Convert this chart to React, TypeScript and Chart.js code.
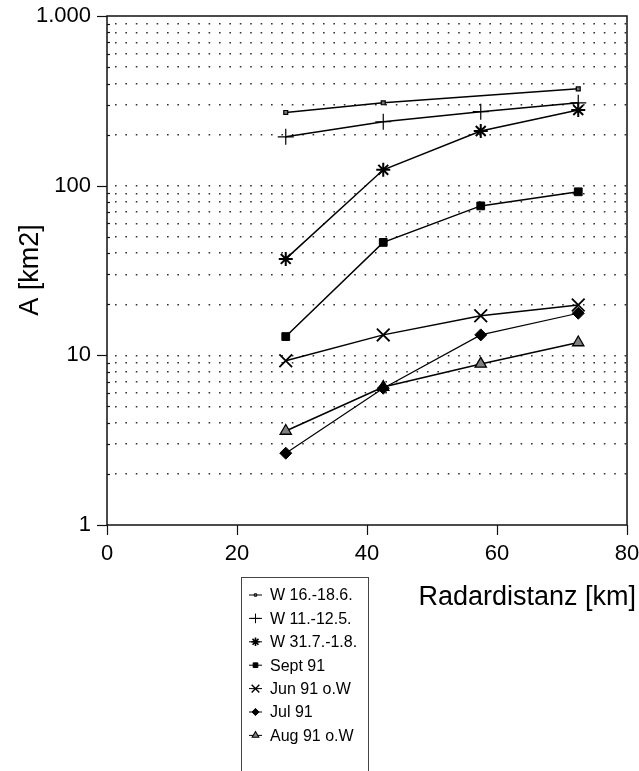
import React, { useEffect, useRef } from 'react';
import { Chart, registerables } from 'chart.js';
import { drawPoint } from 'chart.js/helpers';

Chart.register(...registerables);

// ---- data ----
const distances = [27.5, 42.5, 57.5, 72.5];
const seriesNames = ['W 16.-18.6.', 'W 11.-12.5.', 'W 31.7.-1.8.', 'Sept 91', 'Jun 91 o.W', 'Jul 91', 'Aug 91 o.W'];
const w1618 = [270, 308, null, 372];
const w1112 = [194, 238, 273, 308];
const w3171 = [37, 124, 210, 279];
const sept91 = [12.9, 46.3, 76, 92];
const jun91 = [9.3, 13.2, 17.1, 19.8];
const jul91 = [2.65, 6.4, 13.2, 17.7];
const aug91 = [3.58, 6.5, 8.9, 11.9];
const xTicks = [0, 20, 40, 60, 80];
const yDecades = [1, 10, 100, 1000];
const yLabels = ['1', '10', '100', '1.000'];
const xTitle = 'Radardistanz [km]';
const yTitle = 'A [km2]';

const seriesValues = [w1618, w1112, w3171, sept91, jun91, jul91, aug91];

// ---- styles ----
const FONT = "'Liberation Sans', Arial, Helvetica, sans-serif";
const markerStyles = [
  { pointStyle: 'rect', radius: 2.8, bg: '#777', bw: 1.2, lw: 1.5 },
  { pointStyle: 'cross', radius: 8, bg: '#000', bw: 1.2, lw: 1.5 },
  { pointStyle: 'star', radius: 7, bg: '#000', bw: 2, lw: 1.5 },
  { pointStyle: 'rect', radius: 5.5, bg: '#000', bw: 1, lw: 1.5 },
  { pointStyle: 'crossRot', radius: 9, bg: '#000', bw: 1.8, lw: 1.5 },
  { pointStyle: 'rectRot', radius: 6, bg: '#000', bw: 1, lw: 1.2 },
  { pointStyle: 'triangle', radius: 6.5, bg: '#808080', bw: 1.3, lw: 1.5 },
];

function buildYTicks() {
  const vals: number[] = [];
  for (let i = 0; i < yDecades.length - 1; i++) {
    for (let m = 1; m <= 9; m++) vals.push(yDecades[i] * m);
  }
  vals.push(yDecades[yDecades.length - 1]);
  return vals;
}

const overlayPlugin = {
  id: 'overlay',
  afterDraw(chart: any) {
    const { ctx, chartArea } = chart;
    const { left, right, top, bottom } = chartArea;
    const x = chart.scales.x;
    const y = chart.scales.y;
    ctx.save();
    // frame
    ctx.strokeStyle = '#111';
    ctx.lineWidth = 1.5;
    ctx.strokeRect(left, top, right - left, bottom - top);

    // y tick marks
    ctx.lineWidth = 1.2;
    y.ticks.forEach((t: any) => {
      const py = Math.round(y.getPixelForValue(t.value)) + 0.5;
      ctx.beginPath();
      if (yDecades.includes(t.value)) {
        ctx.moveTo(left - 10, py);
        ctx.lineTo(left, py);
      } else {
        ctx.moveTo(left, py);
        ctx.lineTo(left + 3, py);
      }
      ctx.stroke();
    });
    // x tick marks
    xTicks.forEach((v) => {
      const px = Math.round(x.getPixelForValue(v)) + 0.5;
      ctx.beginPath();
      ctx.moveTo(px, bottom);
      ctx.lineTo(px, bottom + 10);
      ctx.stroke();
    });

    // axis titles
    ctx.fillStyle = '#000';
    ctx.font = `27px ${FONT}`;
    ctx.textAlign = 'right';
    ctx.textBaseline = 'middle';
    ctx.fillText(xTitle, 636, 598);

    ctx.save();
    ctx.font = `27px ${FONT}`;
    ctx.translate(31, 270);
    ctx.rotate(-Math.PI / 2);
    ctx.textAlign = 'center';
    ctx.fillText(yTitle, 0, 0);
    ctx.restore();

    // legend box
    ctx.strokeStyle = '#444';
    ctx.lineWidth = 1;
    ctx.strokeRect(241.5, 577.5, 127, 220);
    ctx.font = `16px ${FONT}`;
    ctx.textAlign = 'left';
    ctx.textBaseline = 'middle';
    seriesNames.forEach((name, i) => {
      const st = markerStyles[i];
      const ly = 595 + i * 23.4;
      ctx.strokeStyle = '#000';
      ctx.lineWidth = 1;
      ctx.beginPath();
      ctx.moveTo(249, ly);
      ctx.lineTo(262, ly);
      ctx.stroke();
      ctx.fillStyle = st.bg;
      ctx.strokeStyle = '#000';
      ctx.lineWidth = Math.max(1, st.bw * 0.8);
      drawPoint(ctx, { pointStyle: st.pointStyle, rotation: 0, radius: st.radius * 0.6, borderWidth: ctx.lineWidth } as any, 255.5, ly);
      ctx.fillStyle = '#000';
      ctx.fillText(name, 270, ly + 1);
    });
    ctx.restore();
  },
};

export default function App() {
  const ref = useRef<HTMLCanvasElement | null>(null);
  useEffect(() => {
    if (!ref.current) return;
    const datasets = seriesNames.map((name, i) => {
      const st = markerStyles[i];
      return {
        label: name,
        data: distances.map((d, j) => ({ x: d, y: seriesValues[i][j] })),
        borderColor: '#000',
        borderWidth: st.lw,
        pointStyle: st.pointStyle,
        pointRadius: st.radius,
        pointBackgroundColor: st.bg,
        pointBorderColor: '#000',
        pointBorderWidth: st.bw,
        spanGaps: true,
        tension: 0,
        fill: false,
      };
    });
    const chart = new Chart(ref.current, {
      type: 'line',
      data: { datasets } as any,
      plugins: [overlayPlugin],
      options: {
        responsive: false,
        animation: false,
        devicePixelRatio: 1,
        layout: { padding: { top: 16, right: 12, bottom: 0, left: 0 } },
        plugins: { legend: { display: false }, tooltip: { enabled: false } },
        scales: {
          x: {
            type: 'linear',
            min: 0,
            max: 80,
            afterBuildTicks: (scale: any) => {
              scale.ticks = xTicks.map((v) => ({ value: v }));
            },
            afterFit: (scale: any) => {
              scale.height = 246;
              scale.paddingLeft = 0;
              scale.paddingRight = 0;
            },
            ticks: {
              autoSkip: false,
              color: '#000',
              font: { family: FONT, size: 22 },
              padding: 16,
              maxRotation: 0,
            },
            grid: { display: false, drawTicks: false },
            border: { display: false },
          },
          y: {
            type: 'logarithmic',
            min: 1,
            max: 1000,
            afterBuildTicks: (scale: any) => {
              scale.ticks = buildYTicks().map((v) => ({ value: v }));
            },
            afterFit: (scale: any) => {
              scale.width = 107;
              scale.paddingTop = 0;
              scale.paddingBottom = 0;
            },
            ticks: {
              autoSkip: false,
              color: '#000',
              font: { family: FONT, size: 22 },
              padding: 16,
              callback: (value: any) => {
                const idx = yDecades.indexOf(Number(value));
                return idx >= 0 ? yLabels[idx] : '';
              },
            },
            grid: {
              drawTicks: false,
              lineWidth: 1.4,
              color: (c: any) =>
                c.tick && (c.tick.value === 1 || c.tick.value === 1000) ? 'rgba(0,0,0,0)' : '#333',
            },
            border: { display: false, dash: [1.6, 8.8], dashOffset: -8 },
          },
        },
      } as any,
    });
    return () => chart.destroy();
  }, []);
  return (
    <div style={{ position: 'absolute', left: 0, top: 0, width: 639, height: 771, background: '#fff' }}>
      <canvas ref={ref} width={639} height={771} style={{ display: 'block', width: 639, height: 771 }} />
    </div>
  );
}
